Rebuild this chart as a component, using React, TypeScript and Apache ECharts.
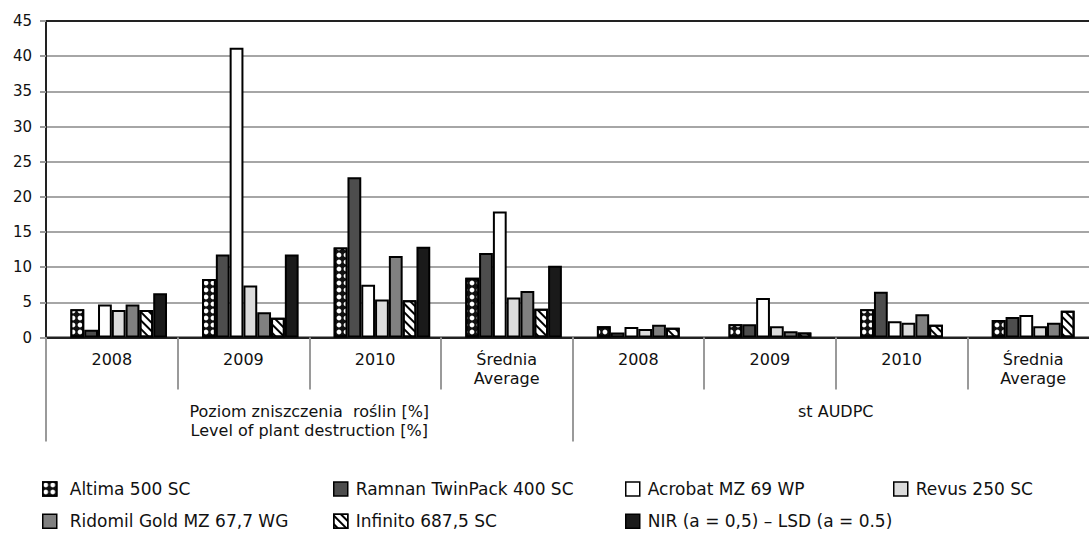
import React, { useEffect, useRef } from "react";
import * as echarts from "echarts";

// Categories (first level) and groups (second level)
const categories = [
  "2008",
  "2009",
  "2010",
  "Średnia\nAverage",
  "2008",
  "2009",
  "2010",
  "Średnia\nAverage",
];
const groups = [
  "Poziom zniszczenia  roślin [%]\nLevel of plant destruction [%]",
  "st AUDPC",
];

// Y axis
const yMin = 0;
const yMax = 45;
const yStep = 5;

// Series values
const altima = [4.0, 8.3, 12.8, 8.5, 1.6, 1.9, 4.0, 2.5];
const ramnan = [1.1, 11.8, 22.8, 12.0, 0.7, 1.9, 6.5, 2.9];
const acrobat = [4.7, 41.2, 7.5, 17.9, 1.5, 5.6, 2.3, 3.2];
const revus = [3.9, 7.4, 5.4, 5.7, 1.2, 1.6, 2.1, 1.6];
const ridomil = [4.7, 3.6, 11.6, 6.6, 1.8, 0.9, 3.3, 2.1];
const infinito = [3.9, 2.8, 5.3, 4.1, 1.4, 0.7, 1.8, 3.8];
const nir = [6.3, 11.8, 12.9, 10.2, null, null, null, null];

const names = [
  "Altima 500 SC",
  "Ramnan TwinPack 400 SC",
  "Acrobat MZ 69 WP",
  "Revus 250 SC",
  "Ridomil Gold MZ 67,7 WG",
  "Infinito 687,5 SC",
  "NIR (a = 0,5) – LSD (a = 0.5)",
];

const FONT = "DejaVu Sans";

export default function App() {
  const ref = useRef<HTMLDivElement>(null);

  useEffect(() => {
    if (!ref.current) return;
    const chart = echarts.init(ref.current, null, { renderer: "svg" });

    const border = { borderColor: "#000", borderWidth: 2 };
    const barCommon = {
      type: "bar" as const,
      xAxisIndex: 0,
      yAxisIndex: 0,
      barWidth: 13.8,
      barGap: "0%",
    };

    const series: any[] = [
      // empty leading slot (keeps the group offset as in the original)
      { ...barCommon, name: "_slot", data: categories.map(() => null), silent: true },
      {
        ...barCommon,
        name: names[0],
        data: altima,
        itemStyle: {
          color: "#111",
          ...border,
          decal: {
            symbol: "circle",
            color: "#fff",
            symbolSize: 0.8,
            dashArrayX: [6, 1],
            dashArrayY: [6, 1],
          },
        },
      },
      { ...barCommon, name: names[1], data: ramnan, itemStyle: { color: "#4d4d4d", ...border } },
      { ...barCommon, name: names[2], data: acrobat, itemStyle: { color: "#ffffff", ...border } },
      { ...barCommon, name: names[3], data: revus, itemStyle: { color: "#dcdcdc", ...border } },
      { ...barCommon, name: names[4], data: ridomil, itemStyle: { color: "#808080", ...border } },
      {
        ...barCommon,
        name: names[5],
        data: infinito,
        itemStyle: {
          color: "#ffffff",
          ...border,
          decal: {
            symbol: "rect",
            color: "#000",
            symbolSize: 1,
            dashArrayX: [[1, 0]],
            dashArrayY: [1.3, 3.7],
            rotation: Math.PI / 4,
          },
        },
      },
      { ...barCommon, name: names[6], data: nir, itemStyle: { color: "#1a1a1a", ...border } },
    ];

    const legendPos = [
      { left: 42, top: 480.5, pad: 8 },
      { left: 333, top: 480.5, pad: 3 },
      { left: 625, top: 480.5, pad: 3 },
      { left: 893, top: 480.5, pad: 3 },
      { left: 42, top: 512.7, pad: 8 },
      { left: 333, top: 512.7, pad: 3 },
      { left: 625, top: 512.7, pad: 3 },
    ];

    const legend = names.map((n, i) => ({
      data: [n],
      left: legendPos[i].left,
      top: legendPos[i].top,
      padding: 0,
      itemWidth: 14,
      itemHeight: 14,
      icon: "rect",
      selectedMode: false,
      itemStyle: { borderColor: "#000", borderWidth: 1.5 },
      textStyle: {
        fontFamily: FONT,
        fontSize: 17,
        color: "#111",
        lineHeight: 14,
        padding: [0, 0, 0, legendPos[i].pad],
      },
    }));

    const option: any = {
      animation: false,
      backgroundColor: "#fff",
      grid: {
        left: 46,
        top: 21,
        width: 1053,
        height: 316.5,
        show: true,
        borderColor: "#222",
        borderWidth: 2,
        backgroundColor: "transparent",
      },
      legend,
      xAxis: [
        {
          type: "category",
          data: categories,
          position: "bottom",
          gridIndex: 0,
          axisLine: { show: true, lineStyle: { color: "#222", width: 2 } },
          axisTick: {
            show: true,
            interval: 0,
            alignWithLabel: false,
            length: 52,
            lineStyle: { color: "#9a9a9a", width: 2 },
          },
          axisLabel: {
            interval: 0,
            margin: 12,
            fontFamily: FONT,
            fontSize: 16,
            lineHeight: 19,
            color: "#111",
          },
          splitLine: { show: false },
        },
        {
          type: "category",
          data: groups,
          position: "bottom",
          gridIndex: 0,
          axisLine: { show: false },
          axisTick: {
            show: true,
            interval: 0,
            alignWithLabel: false,
            length: 104,
            lineStyle: { color: "#9a9a9a", width: 2 },
          },
          axisLabel: {
            interval: 0,
            margin: 64,
            fontFamily: FONT,
            fontSize: 16,
            lineHeight: 19,
            color: "#111",
          },
          splitLine: { show: false },
        },
      ],
      yAxis: {
        type: "value",
        min: yMin,
        max: yMax,
        interval: yStep,
        axisLine: { show: true, lineStyle: { color: "#222", width: 2 } },
        axisTick: { show: true, length: 6, lineStyle: { color: "#9a9a9a", width: 2 } },
        axisLabel: {
          margin: 14,
          fontFamily: FONT,
          fontSize: 15,
          color: "#111",
        },
        splitLine: {
          show: true,
          showMinLine: false,
          showMaxLine: false,
          lineStyle: { color: "#a6a6a6", width: 2 },
        },
      },
      series,
    };

    chart.setOption(option);
    return () => chart.dispose();
  }, []);

  return (
    <div
      style={{
        position: "absolute",
        left: 0,
        top: 0,
        width: 1089,
        height: 536,
        overflow: "hidden",
      }}
    >
      <div ref={ref} style={{ width: 1110, height: 536 }} />
    </div>
  );
}
